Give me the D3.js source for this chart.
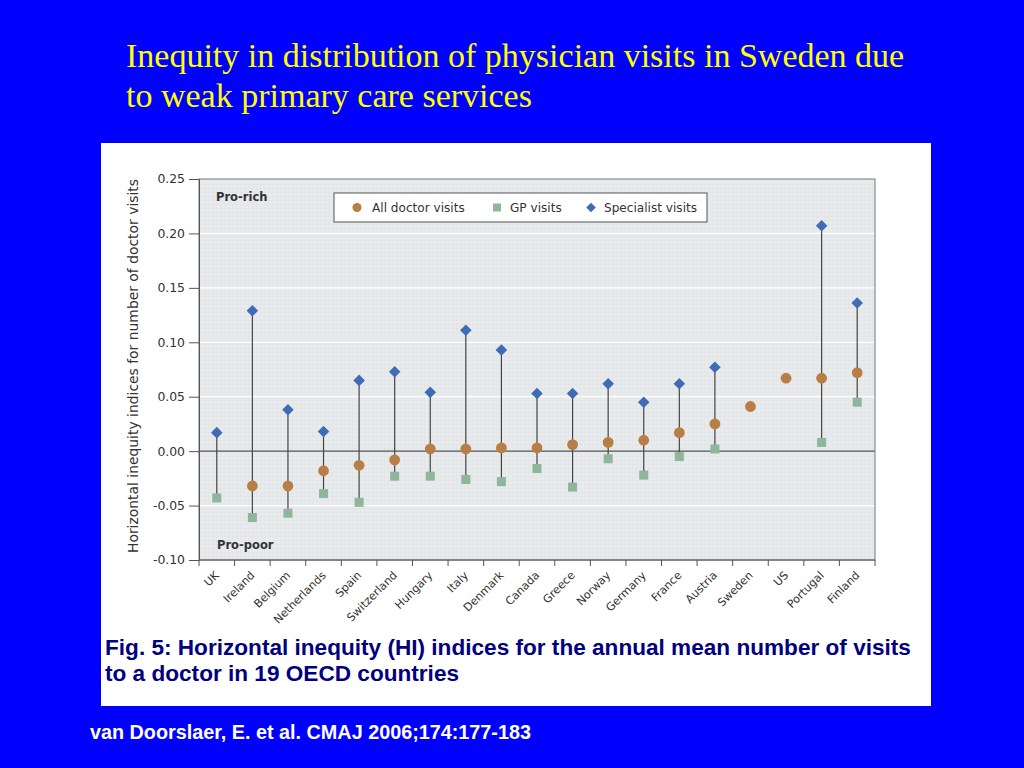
<!DOCTYPE html>
<html>
<head>
<meta charset="utf-8">
<script src="https://cdn.jsdelivr.net/npm/d3@7"></script>
<style>
  html, body { margin: 0; padding: 0; background: #0000ff; }
  svg { display: block; }
  .tick text { font-family: "DejaVu Sans", sans-serif; }
</style>
</head>
<body>
<svg id="chart" width="1024" height="768"></svg>
<script>
// ── Data ──────────────────────────────────────────────────────
const countries = ["UK", "Ireland", "Belgium", "Netherlands", "Spain", "Switzerland",
  "Hungary", "Italy", "Denmark", "Canada", "Greece", "Norway", "Germany", "France",
  "Austria", "Sweden", "US", "Portugal", "Finland"];

const allVisits = [null, -0.032, -0.032, -0.018, -0.013, -0.008, 0.002, 0.002, 0.003,
  0.003, 0.006, 0.008, 0.010, 0.017, 0.025, 0.041, 0.067, 0.067, 0.072];

const gpVisits = [-0.043, -0.061, -0.057, -0.039, -0.047, -0.023, -0.023, -0.026, -0.028,
  -0.016, -0.033, -0.007, -0.022, -0.005, 0.002, null, null, 0.008, 0.045];

const specVisits = [0.017, 0.129, 0.038, 0.018, 0.065, 0.073, 0.054, 0.111, 0.093,
  0.053, 0.053, 0.062, 0.045, 0.062, 0.077, null, null, 0.207, 0.136];

const yTicks = [-0.10, -0.05, 0.00, 0.05, 0.10, 0.15, 0.20, 0.25];

// ── Layout ───────────────────────────────────────────────────
const svg = d3.select("#chart");
const plot = { left: 199, right: 875, top: 179, bottom: 560 };
const colors = { all: "#b77f45", gp: "#8fb59a", spec: "#3f6cb6" };

// Slide title
const title = svg.append("text")
  .attr("fill", "#ffff00")
  .style("font-family", "'Liberation Serif', 'Times New Roman', serif")
  .style("font-size", "34px");
title.append("tspan").attr("x", 126).attr("y", 67)
  .text("Inequity in distribution of physician visits in Sweden due");
title.append("tspan").attr("x", 126).attr("y", 107)
  .text("to weak primary care services");

// White figure panel
svg.append("rect")
  .attr("x", 101).attr("y", 143).attr("width", 830).attr("height", 563)
  .attr("fill", "#ffffff");

// ── Scales ───────────────────────────────────────────────────
const x = d3.scaleBand().domain(countries).range([plot.left, plot.right]);
const y = d3.scaleLinear().domain([-0.10, 0.25]).range([plot.bottom, plot.top]);
const cx = d => x(d) + x.bandwidth() / 2;

// Plot background with faint grid texture
const defs = svg.append("defs");
const pat = defs.append("pattern")
  .attr("id", "mesh").attr("width", 4).attr("height", 4)
  .attr("patternUnits", "userSpaceOnUse");
pat.append("rect").attr("width", 4).attr("height", 4).attr("fill", "#e8eaec");
pat.append("path").attr("d", "M0 0H4M0 0V4")
  .attr("stroke", "#e1e4e6").attr("stroke-width", 1);

svg.append("rect")
  .attr("x", plot.left).attr("y", plot.top)
  .attr("width", plot.right - plot.left).attr("height", plot.bottom - plot.top)
  .attr("fill", "url(#mesh)");

// White horizontal gridlines
svg.selectAll(".grid")
  .data(yTicks.filter(t => t !== 0 && t !== 0.25 && t !== -0.10))
  .join("line")
    .attr("x1", plot.left).attr("x2", plot.right)
    .attr("y1", d => y(d)).attr("y2", d => y(d))
    .attr("stroke", "#ffffff").attr("stroke-width", 1.2);

// Zero line
svg.append("line")
  .attr("x1", plot.left).attr("x2", plot.right)
  .attr("y1", y(0)).attr("y2", y(0))
  .attr("stroke", "#555").attr("stroke-width", 1.2);

// Frame
svg.append("rect")
  .attr("x", plot.left).attr("y", plot.top)
  .attr("width", plot.right - plot.left).attr("height", plot.bottom - plot.top)
  .attr("fill", "none").attr("stroke", "#8a8a8a").attr("stroke-width", 1.2);

// ── Axes ─────────────────────────────────────────────────────
const yAxis = d3.axisLeft(y)
  .tickValues(yTicks)
  .tickFormat(d => d3.format(".2f")(d).replace("−", "-"))
  .tickSize(10).tickPadding(4);

const gy = svg.append("g")
  .attr("transform", `translate(${plot.left},0)`)
  .call(yAxis);
gy.select(".domain").attr("stroke", "#555");
gy.selectAll(".tick line").attr("stroke", "#555");
gy.selectAll(".tick text")
  .attr("fill", "#333").style("font-size", "12.4px");

// X axis: ticks at band boundaries
const gx = svg.append("g")
  .attr("transform", `translate(0,${plot.bottom})`);
gx.append("line")
  .attr("x1", plot.left).attr("x2", plot.right)
  .attr("stroke", "#555");
gx.selectAll(".xtick")
  .data(countries.concat(["_end"]))
  .join("line")
    .attr("x1", (d, i) => plot.left + i * x.bandwidth())
    .attr("x2", (d, i) => plot.left + i * x.bandwidth())
    .attr("y1", 0).attr("y2", 6)
    .attr("stroke", "#555");
gx.selectAll(".xlabel")
  .data(countries)
  .join("text")
    .attr("transform", d => `translate(${cx(d) + 3},${16}) rotate(-45)`)
    .attr("text-anchor", "end")
    .attr("fill", "#333")
    .style("font-family", "'DejaVu Sans', sans-serif")
    .style("font-size", "11.2px")
    .text(d => d);

// Y axis title
svg.append("text")
  .attr("transform", `translate(138,${366}) rotate(-90)`)
  .attr("text-anchor", "middle")
  .attr("fill", "#333")
  .style("font-family", "'DejaVu Sans', sans-serif")
  .style("font-size", "13.9px")
  .text("Horizontal inequity indices for number of doctor visits");

// Region labels
svg.append("text")
  .attr("x", 216).attr("y", 201)
  .attr("fill", "#333")
  .style("font-family", "'DejaVu Sans', sans-serif")
  .style("font-size", "11.5px").style("font-weight", "bold")
  .text("Pro-rich");
svg.append("text")
  .attr("x", 217).attr("y", 549)
  .attr("fill", "#333")
  .style("font-family", "'DejaVu Sans', sans-serif")
  .style("font-size", "11.5px").style("font-weight", "bold")
  .text("Pro-poor");

// ── Marks ────────────────────────────────────────────────────
const rows = countries.map((c, i) => ({
  c, all: allVisits[i], gp: gpVisits[i], spec: specVisits[i]
}));
const vals = r => [r.all, r.gp, r.spec].filter(v => v !== null);

// Stems from lowest to highest value
svg.selectAll(".stem")
  .data(rows.filter(r => vals(r).length > 1))
  .join("line")
    .attr("x1", d => cx(d.c)).attr("x2", d => cx(d.c))
    .attr("y1", d => y(d3.min(vals(d))))
    .attr("y2", d => y(d3.max(vals(d))))
    .attr("stroke", "#444").attr("stroke-width", 1.2);

const sym = (type, size) => d3.symbol().type(type).size(size)();

svg.selectAll(".gp")
  .data(rows.filter(r => r.gp !== null))
  .join("rect")
    .attr("x", d => cx(d.c) - 4.5).attr("y", d => y(d.gp) - 4.5)
    .attr("width", 9).attr("height", 9)
    .attr("fill", colors.gp);

svg.selectAll(".all")
  .data(rows.filter(r => r.all !== null))
  .join("circle")
    .attr("cx", d => cx(d.c)).attr("cy", d => y(d.all))
    .attr("r", 5.4)
    .attr("fill", colors.all);

svg.selectAll(".spec")
  .data(rows.filter(r => r.spec !== null))
  .join("path")
    .attr("d", sym(d3.symbolDiamond2, 85))
    .attr("transform", d => `translate(${cx(d.c)},${y(d.spec)})`)
    .attr("fill", colors.spec);

// ── Legend ───────────────────────────────────────────────────
const lg = svg.append("g");
lg.append("rect")
  .attr("x", 334).attr("y", 193).attr("width", 373).attr("height", 29)
  .attr("fill", "#fff").attr("stroke", "#555").attr("stroke-width", 1);
lg.append("circle").attr("cx", 357).attr("cy", 207.5).attr("r", 4.5).attr("fill", colors.all);
lg.append("rect").attr("x", 493).attr("y", 203.5).attr("width", 8).attr("height", 8).attr("fill", colors.gp);
lg.append("path").attr("d", sym(d3.symbolDiamond2, 60))
  .attr("transform", "translate(591,207.5)").attr("fill", colors.spec);
[["All doctor visits", 372], ["GP visits", 510], ["Specialist visits", 604]].forEach(([t, px]) => {
  lg.append("text")
    .attr("x", px).attr("y", 212)
    .attr("fill", "#333")
    .style("font-family", "'DejaVu Sans', sans-serif")
    .style("font-size", "12.1px")
    .text(t);
});

// ── Caption & citation ───────────────────────────────────────
const cap = svg.append("text")
  .attr("fill", "#000080")
  .style("font-family", "'Liberation Sans', Arial, sans-serif")
  .style("font-size", "22.6px").style("font-weight", "bold");
cap.append("tspan").attr("x", 105).attr("y", 655)
  .text("Fig. 5: Horizontal inequity (HI) indices for the annual mean number of visits");
cap.append("tspan").attr("x", 105).attr("y", 681)
  .text("to a doctor in 19 OECD countries");

svg.append("text")
  .attr("x", 90).attr("y", 739)
  .attr("fill", "#ffffff")
  .style("font-family", "'Liberation Sans', Arial, sans-serif")
  .style("font-size", "19.8px").style("font-weight", "bold")
  .text("van Doorslaer, E. et al. CMAJ 2006;174:177-183");
</script>
</body>
</html>
